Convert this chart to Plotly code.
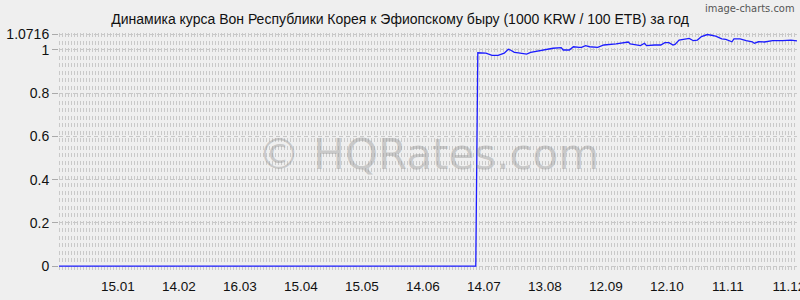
import plotly.graph_objects as go

title_text = "Динамика курса Вон Республики Корея к Эфиопскому быру (1000 KRW / 100 ETB) за год"

dates = [
    "2024-12-16", "2025-07-10",
    "2025-07-11", "2025-07-15", "2025-07-18", "2025-07-21", "2025-07-24", "2025-07-26",
    "2025-07-27", "2025-07-29", "2025-07-31", "2025-08-02", "2025-08-04", "2025-08-06",
    "2025-08-09", "2025-08-13", "2025-08-17", "2025-08-21", "2025-08-22", "2025-08-25",
    "2025-08-27", "2025-08-30", "2025-08-31", "2025-09-02", "2025-09-04", "2025-09-08",
    "2025-09-11", "2025-09-17", "2025-09-20", "2025-09-23", "2025-09-24", "2025-09-25",
    "2025-09-29", "2025-10-01", "2025-10-02", "2025-10-06", "2025-10-09", "2025-10-11",
    "2025-10-13", "2025-10-15", "2025-10-16", "2025-10-18", "2025-10-21", "2025-10-23",
    "2025-10-25", "2025-10-27", "2025-10-29", "2025-11-01", "2025-11-05", "2025-11-08",
    "2025-11-10", "2025-11-12", "2025-11-13", "2025-11-14", "2025-11-17", "2025-11-20",
    "2025-11-23", "2025-11-24", "2025-11-26", "2025-11-29", "2025-12-03", "2025-12-08",
    "2025-12-12", "2025-12-15",
]
rates = [
    0, 0,
    0.987, 0.985, 0.975, 0.975, 0.985, 1.003,
    1.000, 0.989, 0.987, 0.985, 0.981, 0.989,
    0.994, 1.000, 1.008, 1.011, 1.000, 1.000,
    1.015, 1.012, 1.012, 1.020, 1.015, 1.012,
    1.023, 1.028, 1.031, 1.037, 1.028, 1.026,
    1.020, 1.031, 1.020, 1.023, 1.023, 1.034,
    1.034, 1.023, 1.026, 1.046, 1.049, 1.054,
    1.043, 1.046, 1.062, 1.0716, 1.064, 1.051,
    1.049, 1.043, 1.038, 1.051, 1.051, 1.043,
    1.038, 1.031, 1.038, 1.037, 1.043, 1.043,
    1.046, 1.042,
]

x_tick_dates = ["2025-01-15", "2025-02-14", "2025-03-16", "2025-04-15", "2025-05-15",
                "2025-06-14", "2025-07-14", "2025-08-13", "2025-09-12", "2025-10-12",
                "2025-11-11", "2025-12-11"]
x_tick_labels = ["15.01", "14.02", "16.03", "15.04", "15.05", "14.06", "14.07",
                 "13.08", "12.09", "12.10", "11.11", "11.12"]
y_tick_vals = [0, 0.2, 0.4, 0.6, 0.8, 1, 1.0716]
y_tick_labels = ["0", "0.2", "0.4", "0.6", "0.8", "1", "1.0716"]

x_range = ["2024-12-17", "2025-12-15"]
y_range = [-0.046, 1.0786]

BG = "#efefef"
font_family = "Liberation Sans, Arial, sans-serif"

fig = go.Figure()

# texture carrier (invisible trace on primary y)
fig.add_trace(go.Scatter(x=[x_range[0]], y=[0], mode="markers",
                         marker=dict(opacity=0), hoverinfo="skip",
                         showlegend=False, xaxis="x", yaxis="y"))

fig.add_trace(go.Scatter(
    x=dates, y=rates, mode="lines",
    line=dict(color="#1c1cff", width=1.3),
    showlegend=False, xaxis="x", yaxis="y2",
))

fig.update_layout(
    width=800, height=300,
    margin=dict(l=59, r=3, t=33, b=24),
    paper_bgcolor=BG, plot_bgcolor=BG,
    font=dict(family=font_family, size=14, color="#222"),
    title=dict(text=title_text, x=0.5, xanchor="center", y=0.935, yanchor="middle",
               font=dict(family=font_family, size=14, color="#111")),
    xaxis=dict(
        type="date", range=x_range, tickvals=x_tick_dates, ticktext=x_tick_labels,
        showgrid=False, zeroline=False, showline=False, ticks="",
        ticklabeloverflow="allow", automargin=False,
        tickfont=dict(size=13.5, color="#111"),
    ),
    yaxis=dict(
        range=[243, 0], tick0=2, dtick=7.5, showticklabels=False,
        showgrid=True, gridcolor="#c9c9c9", gridwidth=4, griddash="1px,2px",
        zeroline=False, showline=False, ticks="", automargin=False,
    ),
    yaxis2=dict(
        overlaying="y", side="left", anchor="x", range=y_range,
        tickvals=y_tick_vals, ticktext=y_tick_labels,
        showgrid=True, gridcolor="#c8c8c8", gridwidth=1, griddash="4px,3px",
        zeroline=False, showline=False, automargin=False,
        ticks="outside", ticklen=6, tickcolor="#aaaaaa",
        tickfont=dict(size=14, color="#111"),
    ),
    annotations=[
        dict(text="© HQRates.com", xref="paper", yref="paper", x=0.5, y=0.5,
             xanchor="center", yanchor="middle", showarrow=False,
             font=dict(family="DejaVu Sans, sans-serif", size=42,
                       color="rgba(140,140,140,0.4)")),
        dict(text="image-charts.com", xref="paper", yref="paper", x=1.0, y=1.0,
             xanchor="right", yanchor="bottom", yshift=16, xshift=0, showarrow=False,
             font=dict(family="DejaVu Sans Condensed, sans-serif", size=11,
                       color="#555")),
    ],
)

fig.write_html("out.html")
